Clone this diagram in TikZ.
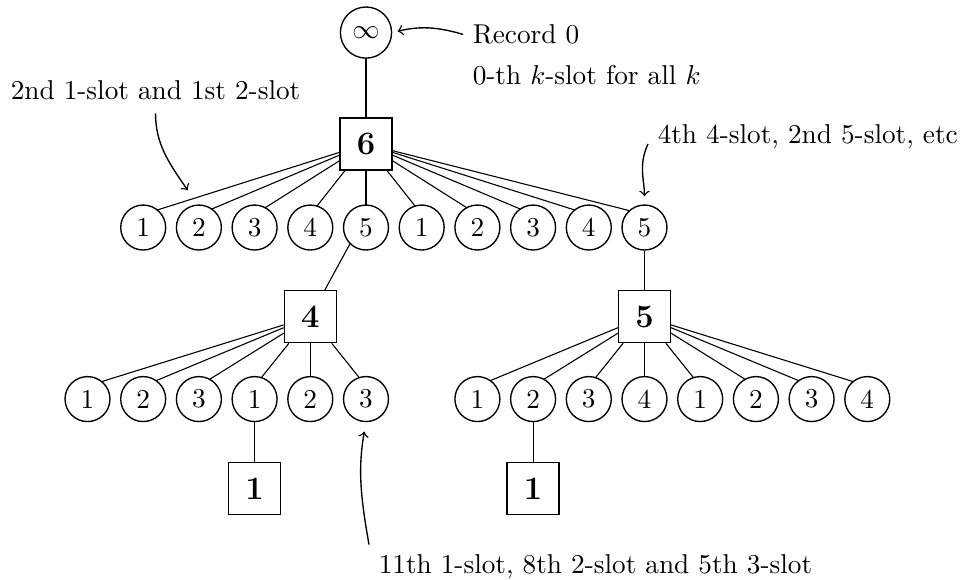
\documentclass[tikz,border=0pt]{standalone}
\usetikzlibrary{backgrounds}

\begin{document}
\begin{tikzpicture}[x=0.7185cm,y=0.7185cm,line width=0.5pt,
	slot/.style={circle,draw,fill=white,minimum size=0.58cm,inner sep=0pt},
	rec/.style={rectangle,draw,fill=white,minimum size=0.67cm,inner sep=0pt,font=\large\bfseries},
	tip/.style={yshift=4.8pt}]
	\useasboundingbox (-6.571,-7.828) rectangle (10.718,2.585);
	\node[slot,minimum size=0.66cm] (inf) at (0,2) {$\infty$};
	\node[rec] (r6) at (0,0) {6};
	\foreach \k [count=\i] in {1,2,3,4,5,1,2,3,4,5}
		\node[slot] (a\i) at (\i-5,-1.5) {\k};
	% left subtree
	\node[rec] (r4) at (-1,-3.1) {4};
	\foreach \k [count=\i] in {1,2,3,1,2,3}
		\node[slot] (b\i) at (\i-6,-4.58) {\k};
	\node[rec] (r1l) at (-2,-6.19) {1};
	% right subtree
	\node[rec] (r5) at (5,-3.1) {5};
	\foreach \k [count=\i] in {1,2,3,4,1,2,3,4}
		\node[slot] (c\i) at (\i+1,-4.58) {\k};
	\node[rec] (r1r) at (3,-6.19) {1};
	% edges
	\begin{scope}[on background layer]
		\draw (inf) -- (r6);
		\foreach \i in {1,...,10}
			\draw (r6) -- ([tip]a\i.center);
		\draw ([tip]a5.center) -- (r4);
		\foreach \i in {1,...,6}
			\draw (r4) -- ([tip]b\i.center);
		\draw (b4) -- (r1l);
		\draw (a10) -- (r5);
		\foreach \i in {1,...,8}
			\draw (r5) -- ([tip]c\i.center);
		\draw (c2) -- (r1r);
	\end{scope}
	% notes
	\node[anchor=base west] (rec0) at (1.742,1.803) {Record 0};
	\node[anchor=base west] (kall) at (1.742,1.068) {0-th $k$-slot for all $k$};
	\node[anchor=base west] (twoone) at (-6.553,0.802) {2nd 1-slot and 1st 2-slot};
	\node[anchor=base west] (fourfive) at (5.063,0) {4th 4-slot, 2nd 5-slot, etc};
	\node[anchor=base west] (elev) at (0.054,-7.707) {11th 1-slot, 8th 2-slot and 5th 3-slot};
	\coordinate (aim) at (-3.2,-0.83);
	\draw[->,shorten >=2pt] (rec0.west) to[bend right=15] (inf.east);
	\draw[->,shorten <=1.5pt] (twoone.south) to[out=-90,in=125] (aim);
	\draw[->,shorten >=3pt] (fourfive.base west) to[out=-115,in=90] (a10.north);
	\draw[->,shorten >=3.5pt] (elev.north west) to[out=100,in=-100] (b6.south);
\end{tikzpicture}
\end{document}
